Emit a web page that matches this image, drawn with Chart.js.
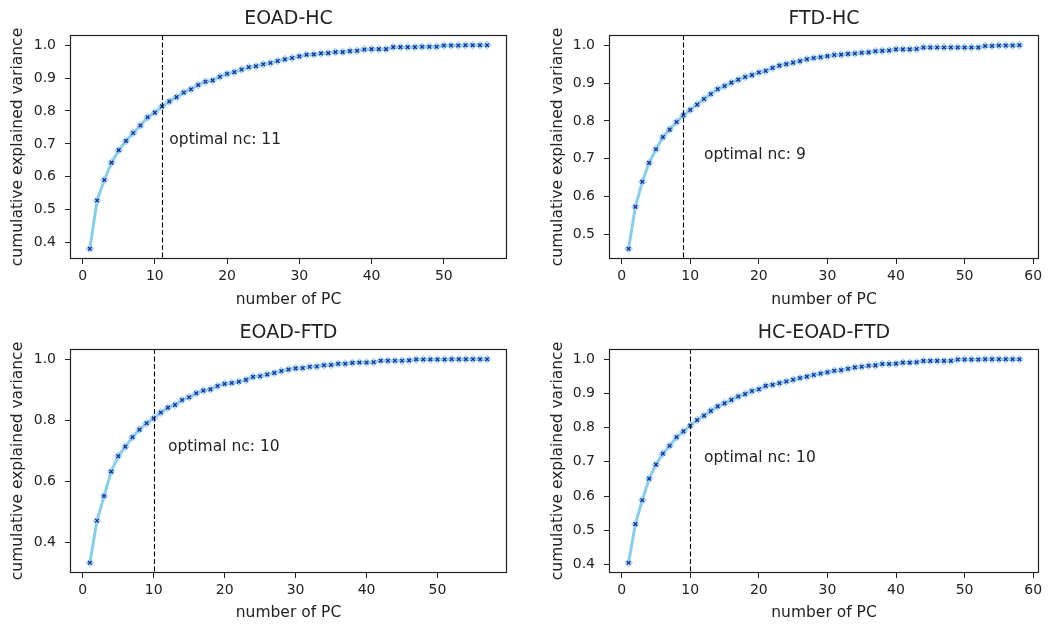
<!DOCTYPE html>
<html>
<head>
<meta charset="utf-8">
<script src="https://cdn.jsdelivr.net/npm/chart.js@4.4.0/dist/chart.umd.min.js"></script>
<style>
  body { margin: 0; background: #fff; }
  .panel { position: absolute; }
</style>
</head>
<body>
<div class="panel" style="left:0;top:0;width:520px;height:310px"><canvas id="c1"></canvas></div>
<div class="panel" style="left:520px;top:0;width:529px;height:310px"><canvas id="c2"></canvas></div>
<div class="panel" style="left:0;top:310px;width:520px;height:314px"><canvas id="c3"></canvas></div>
<div class="panel" style="left:520px;top:310px;width:529px;height:314px"><canvas id="c4"></canvas></div>
<script>
// cumulative explained variance per number of PCs
const eoadHc = [0.381, 0.528, 0.590, 0.643, 0.681, 0.709, 0.733, 0.756, 0.781, 0.795,
                0.814, 0.829, 0.842, 0.856, 0.866, 0.879, 0.889, 0.893, 0.904, 0.913,
                0.918, 0.926, 0.933, 0.936, 0.942, 0.946, 0.952, 0.957, 0.961, 0.966,
                0.971, 0.972, 0.975, 0.976, 0.979, 0.979, 0.982, 0.983, 0.987, 0.988,
                0.988, 0.988, 0.994, 0.994, 0.994, 0.994, 0.995, 0.995, 0.995, 0.999,
                0.999, 0.999, 1.0, 1.0, 1.0, 1.0];
const ftdHc = [0.462, 0.573, 0.639, 0.689, 0.725, 0.757, 0.777, 0.797, 0.815, 0.829,
               0.843, 0.858, 0.871, 0.884, 0.892, 0.901, 0.909, 0.916, 0.921, 0.928,
               0.932, 0.940, 0.946, 0.950, 0.954, 0.958, 0.963, 0.966, 0.968, 0.971,
               0.974, 0.975, 0.977, 0.978, 0.980, 0.981, 0.984, 0.985, 0.986, 0.989,
               0.989, 0.989, 0.990, 0.994, 0.994, 0.994, 0.994, 0.994, 0.994, 0.994,
               0.994, 0.994, 0.998, 0.998, 0.999, 0.999, 0.999, 1.0];
const eoadFtd = [0.332, 0.470, 0.551, 0.631, 0.682, 0.713, 0.744, 0.769, 0.790, 0.806,
                 0.825, 0.841, 0.850, 0.866, 0.875, 0.888, 0.897, 0.901, 0.912, 0.919,
                 0.922, 0.926, 0.932, 0.942, 0.944, 0.950, 0.955, 0.961, 0.966, 0.970,
                 0.971, 0.975, 0.976, 0.980, 0.981, 0.985, 0.985, 0.988, 0.989, 0.989,
                 0.990, 0.995, 0.995, 0.995, 0.995, 0.996, 0.999, 0.999, 0.999, 0.999,
                 0.999, 1.0, 1.0, 1.0, 1.0, 1.0, 1.0];
const hcEoadFtd = [0.405, 0.518, 0.588, 0.651, 0.692, 0.724, 0.747, 0.772, 0.789, 0.806,
                   0.822, 0.835, 0.849, 0.862, 0.871, 0.881, 0.891, 0.898, 0.907, 0.912,
                   0.922, 0.925, 0.930, 0.935, 0.940, 0.945, 0.949, 0.954, 0.958, 0.962,
                   0.966, 0.968, 0.972, 0.976, 0.978, 0.981, 0.982, 0.986, 0.986, 0.987,
                   0.990, 0.990, 0.991, 0.995, 0.995, 0.995, 0.995, 0.995, 0.999, 0.999,
                   0.999, 0.999, 1.0, 1.0, 1.0, 1.0, 1.0, 1.0];

const titles = ["EOAD-HC", "FTD-HC", "EOAD-FTD", "HC-EOAD-FTD"];
const optimalNc = [11, 9, 10, 10];

const xTicksA = [0, 10, 20, 30, 40, 50];
const xTicksB = [0, 10, 20, 30, 40, 50, 60];
const yTicksA = [0.4, 0.5, 0.6, 0.7, 0.8, 0.9, 1.0];
const yTicksB = [0.5, 0.6, 0.7, 0.8, 0.9, 1.0];
const yTicksC = [0.4, 0.6, 0.8, 1.0];

// where the "optimal nc" note sits, in data units
const noteX = 12;
const noteY = 0.70;

const FONT = "DejaVu Sans";
const INK = "#222";

const extrasPlugin = {
    id: "extras",
    afterDatasetsDraw(chart, args, opts) {
        const { ctx, chartArea: a, scales: { x, y } } = chart;
        ctx.save();

        // dashed vertical line at optimal nc
        const px = Math.round(x.getPixelForValue(opts.nc)) + 0.5;
        ctx.strokeStyle = "#000";
        ctx.lineWidth = 1.1;
        ctx.setLineDash([5, 2.5]);
        ctx.beginPath();
        ctx.moveTo(px, a.top);
        ctx.lineTo(px, a.bottom);
        ctx.stroke();
        ctx.setLineDash([]);

        ctx.fillStyle = INK;
        ctx.font = "15.5px '" + FONT + "'";
        ctx.textAlign = "left";
        ctx.textBaseline = "alphabetic";
        ctx.fillText("optimal nc: " + opts.nc, x.getPixelForValue(noteX), y.getPixelForValue(noteY));

        // axes box
        ctx.strokeStyle = INK;
        ctx.lineWidth = 1.2;
        ctx.strokeRect(a.left + 0.5, a.top + 0.5, a.right - a.left - 1, a.bottom - a.top - 1);
        ctx.restore();
    }
};

function makePanel(canvasId, title, values, nc, xTicks, yTicks, g) {
    const n = values.length;
    const points = values.map((v, i) => ({ x: i + 1, y: v }));

    // matplotlib-like 5% margins
    const xPad = 0.05 * (n - 1);
    const lo = Math.min(...values), hi = Math.max(...values);
    const yPad = 0.05 * (hi - lo);

    new Chart(document.getElementById(canvasId), {
        type: "line",
        data: {
            datasets: [
                {
                    // line + pale halo round each marker (drawn underneath)
                    data: points,
                    order: 2,
                    borderColor: "#87ceeb",
                    borderWidth: 3,
                    tension: 0,
                    pointStyle: "rectRot",
                    pointRadius: 4.5,
                    pointBackgroundColor: "rgba(150,210,240,0.8)",
                    pointBorderWidth: 0
                },
                {
                    // dark x markers on top
                    data: points,
                    order: 1,
                    showLine: false,
                    pointStyle: "crossRot",
                    pointRadius: 2.6,
                    pointBorderColor: "#1c2d9c",
                    pointBorderWidth: 1.3
                }
            ]
        },
        options: {
            responsive: true,
            maintainAspectRatio: false,
            animation: false,
            events: [],
            layout: { padding: { left: 0, right: g.padRight, top: 0, bottom: 0 } },
            plugins: {
                legend: { display: false },
                tooltip: { enabled: false },
                title: {
                    display: true,
                    text: title,
                    fullSize: false,
                    color: INK,
                    font: { family: FONT, size: 19, weight: "normal" },
                    padding: { top: g.titleTop, bottom: g.titleBottom }
                },
                extras: { nc: nc }
            },
            scales: {
                x: {
                    type: "linear",
                    min: 1 - xPad,
                    max: n + xPad,
                    afterBuildTicks: s => { s.ticks = xTicks.map(v => ({ value: v })); },
                    afterFit: s => { s.height = g.xAxisH; },
                    border: { display: false },
                    grid: { drawOnChartArea: false, drawTicks: true, tickLength: 5, color: INK },
                    ticks: {
                        color: INK, font: { family: FONT, size: 14 }, padding: 4,
                        maxRotation: 0, autoSkip: false,
                        callback: v => String(v)
                    },
                    title: {
                        display: true, text: "number of PC", color: INK,
                        font: { family: FONT, size: 15.5 },
                        padding: { top: 0, bottom: g.xTitlePad }
                    }
                },
                y: {
                    type: "linear",
                    min: lo - yPad,
                    max: hi + yPad,
                    afterBuildTicks: s => { s.ticks = yTicks.map(v => ({ value: v })); },
                    afterFit: s => { s.width = g.yAxisW; },
                    border: { display: false },
                    grid: { drawOnChartArea: false, drawTicks: true, tickLength: 5, color: INK },
                    ticks: {
                        color: INK, font: { family: FONT, size: 14 }, padding: 9,
                        autoSkip: false,
                        callback: v => v.toFixed(1)
                    },
                    title: {
                        display: true, text: "cumulative explained variance", color: INK,
                        font: { family: FONT, size: 15.5 },
                        padding: { top: g.yTitlePad, bottom: 0 }
                    }
                }
            }
        },
        plugins: [extrasPlugin]
    });
}

const topLeft  = { yAxisW: 70, padRight: 13, titleTop: 8,  titleBottom: 4.2, xAxisH: 51, yTitlePad: 9,  xTitlePad: 1 };
const topRight = { yAxisW: 89, padRight: 10, titleTop: 8,  titleBottom: 4.2, xAxisH: 51, yTitlePad: 29, xTitlePad: 1 };
const botLeft  = { yAxisW: 70, padRight: 13, titleTop: 12, titleBottom: 4.2, xAxisH: 51, yTitlePad: 9,  xTitlePad: 2 };
const botRight = { yAxisW: 89, padRight: 10, titleTop: 12, titleBottom: 4.2, xAxisH: 51, yTitlePad: 29, xTitlePad: 2 };

makePanel("c1", titles[0], eoadHc, optimalNc[0], xTicksA, yTicksA, topLeft);
makePanel("c2", titles[1], ftdHc, optimalNc[1], xTicksB, yTicksB, topRight);
makePanel("c3", titles[2], eoadFtd, optimalNc[2], xTicksA, yTicksC, botLeft);
makePanel("c4", titles[3], hcEoadFtd, optimalNc[3], xTicksB, yTicksA, botRight);
</script>
</body>
</html>
